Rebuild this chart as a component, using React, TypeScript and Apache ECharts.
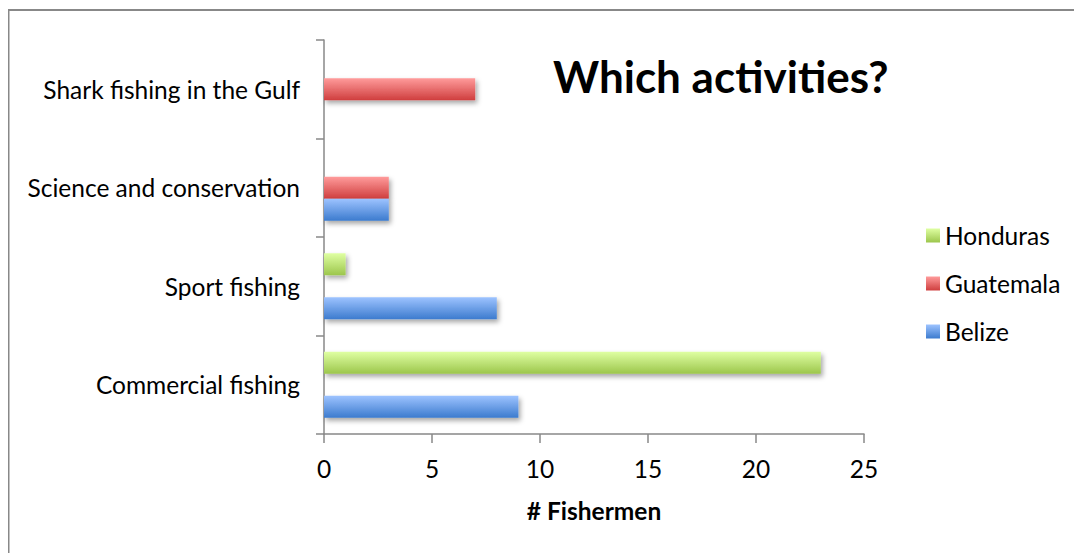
import React, { useEffect, useRef } from "react";
import * as echarts from "echarts";

const categories = ["Commercial fishing", "Sport fishing", "Science and conservation", "Shark fishing in the Gulf"];
const belize = [9, 8, 3, null];
const guatemala = [null, null, 3, 7];
const honduras = [23, 1, null, null];
const xTicks = { min: 0, max: 25, interval: 5 };
const legendOrder = ["Honduras", "Guatemala", "Belize"];

const FONT = "Lato";

function grad(top: string, bottom: string) {
  return new echarts.graphic.LinearGradient(0, 0, 0, 1, [
    { offset: 0, color: top },
    { offset: 1, color: bottom },
  ]);
}

const colors: Record<string, [string, string]> = {
  Belize: ["#9DC3FF", "#3C7BCE"],
  Guatemala: ["#FF9B9B", "#CF3E3E"],
  Honduras: ["#DFFFA2", "#9CC64C"],
};

export default function App() {
  const ref = useRef<HTMLDivElement>(null);
  useEffect(() => {
    if (!ref.current) return;
    const chart = echarts.init(ref.current, undefined, { renderer: "svg" });
    const mk = (name: string, data: (number | null)[]) => ({
      name,
      type: "bar",
      data: data.map((v) => (v === null ? "-" : v)),
      barGap: "0%",
      barCategoryGap: "33%",
      itemStyle: {
        color: grad(colors[name][0], colors[name][1]),
        shadowBlur: 5,
        shadowOffsetX: 2,
        shadowOffsetY: 3,
        shadowColor: "rgba(0,0,0,0.35)",
      },
    });
    chart.setOption({
      animation: false,
      textStyle: { fontFamily: FONT, color: "#000" },
      grid: { left: 316, right: 218, top: 32, bottom: 119, containLabel: false },
      legend: {
        data: legendOrder,
        orient: "vertical",
        left: 913,
        top: 210,
        itemWidth: 14,
        itemHeight: 14,
        itemGap: 23,
        icon: "rect",
        textStyle: { fontFamily: FONT, fontSize: 24.5, color: "#000" },
      },
      graphic: [
        { type: "line", shape: { x1: 0, y1: 2, x2: 1074, y2: 2 }, style: { stroke: "#888", lineWidth: 2 } },
        { type: "line", shape: { x1: 0.5, y1: 2, x2: 0.5, y2: 545 }, style: { stroke: "#888", lineWidth: 2 } },
        {
          type: "text",
          left: 545,
          top: 46,
          style: { text: "Which activities?", fontFamily: FONT, fontWeight: "bold", fontSize: 44, fill: "#000" },
        },
      ],
      xAxis: {
        type: "value",
        min: xTicks.min,
        max: xTicks.max,
        interval: xTicks.interval,
        name: "# Fishermen",
        nameLocation: "middle",
        nameGap: 64,
        nameTextStyle: { fontFamily: FONT, fontWeight: "bold", fontSize: 24.5, color: "#000" },
        axisLine: { show: true, lineStyle: { color: "#888", width: 1.5 } },
        axisTick: { show: true, length: 9, lineStyle: { color: "#888", width: 1.5 } },
        axisLabel: { fontFamily: FONT, fontSize: 24.5, color: "#000", margin: 22 },
        splitLine: { show: false },
      },
      yAxis: {
        type: "category",
        data: categories,
        axisLine: { show: true, lineStyle: { color: "#888", width: 1.5 } },
        axisTick: { show: true, length: 8, lineStyle: { color: "#888", width: 1.5 } },
        axisLabel: { fontFamily: FONT, fontSize: 24.5, color: "#000", margin: 24 },
      },
      series: [mk("Honduras", honduras), mk("Guatemala", guatemala), mk("Belize", belize)],
    });
    return () => chart.dispose();
  }, []);
  return <div ref={ref} style={{ width: 1074, height: 545 }} />;
}
